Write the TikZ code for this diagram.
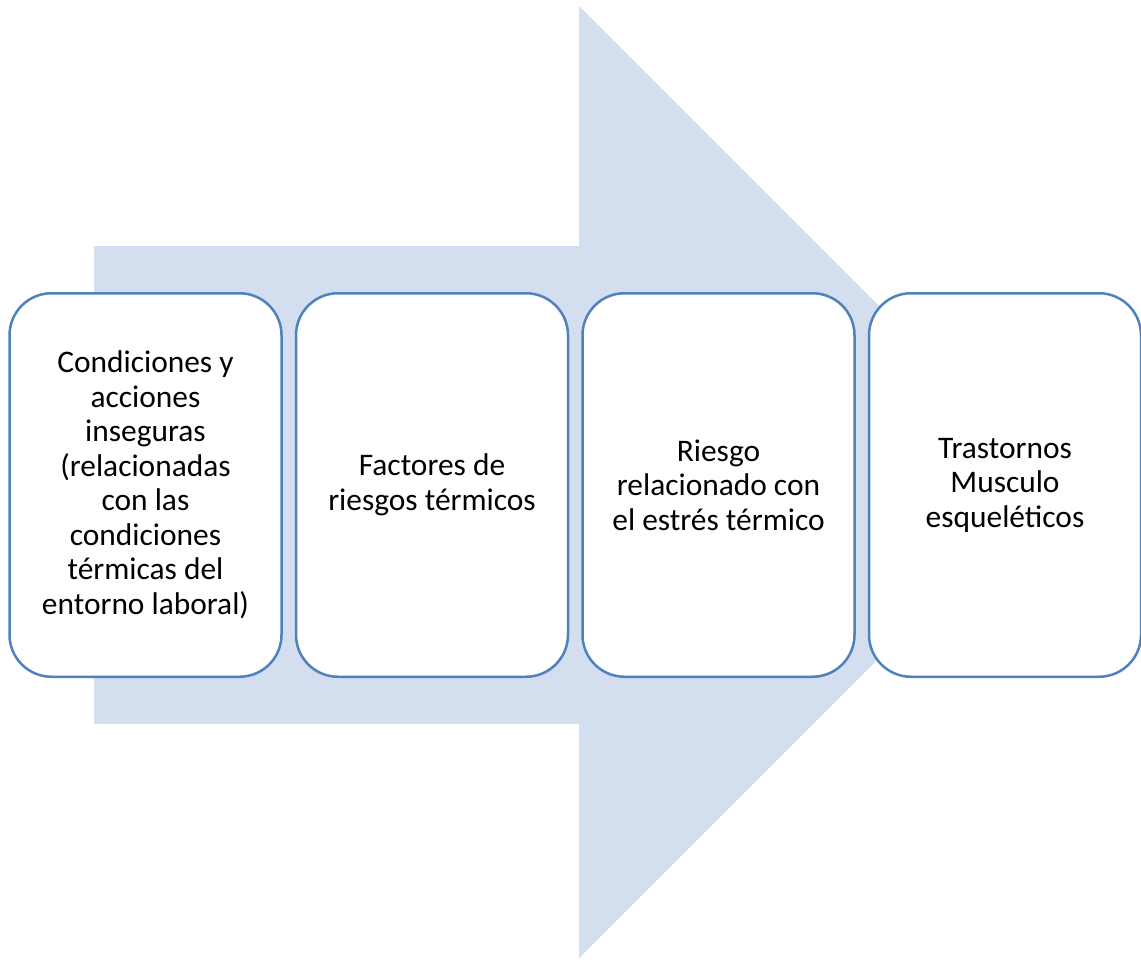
\documentclass[tikz,border=0pt]{standalone}
\usepackage{fontspec}
\setmainfont{Carlito}
\definecolor{arrowfill}{RGB}{211,222,239}
\definecolor{boxline}{RGB}{79,129,189}
\begin{document}
\begin{tikzpicture}[x=1pt,y=-1pt,
  stagebox/.style={draw=boxline, line width=2.5pt, fill=white, rounded corners=42pt,
    minimum width=272pt, minimum height=383.5pt, align=center, inner sep=0pt,
    font=\fontsize{31.4}{34.5}\selectfont, text=black}]
\useasboundingbox (0,0) rectangle (1141,959);
\fill[arrowfill] (94,246) -- (579,246) -- (579,6) -- (1055,482) -- (579,958) -- (579,724) -- (94,724) -- cycle;
\node[stagebox] (b1) at (145.5,485) {Condiciones y\\acciones\\inseguras\\(relacionadas\\con las\\condiciones\\térmicas del\\entorno laboral)};
\node[stagebox] (b2) at (432,485) {Factores de\\riesgos térmicos};
\node[stagebox] (b3) at (718.5,485) {Riesgo\\relacionado con\\el estrés térmico};
\node[stagebox] (b4) at (1005,485) {Trastornos\\Musculo\\esqueléticos};
\end{tikzpicture}
\end{document}
